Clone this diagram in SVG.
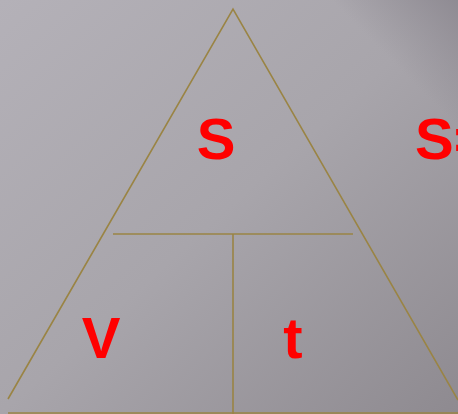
<svg xmlns="http://www.w3.org/2000/svg" width="458" height="414" viewBox="0 0 458 414">
<defs>
<linearGradient id="bg" x1="0" y1="0" x2="1" y2="1">
<stop offset="0" stop-color="#b4b1b8"/>
<stop offset="0.5" stop-color="#a8a5ab"/>
<stop offset="1" stop-color="#8e8a90"/>
</linearGradient>
<linearGradient id="tr" x1="1" y1="0" x2="0.6" y2="0.4">
<stop offset="0" stop-color="#8c8890" stop-opacity="0.9"/>
<stop offset="1" stop-color="#8c8890" stop-opacity="0"/>
</linearGradient>
<style>
.ln{stroke:#9a8444;stroke-width:1.6;fill:none}
.lb{font-family:"Liberation Sans",Arial,sans-serif;font-weight:bold;font-size:58px;fill:#ff0000}
</style>
</defs>
<rect width="458" height="414" fill="url(#bg)"/>
<rect x="300" y="0" width="158" height="160" fill="url(#tr)"/>
<g id="connectors">
<path class="ln" d="M8,399 L233,9 L458,400"/>
<line class="ln" x1="113" y1="234" x2="353" y2="234"/>
<line class="ln" x1="233" y1="234" x2="233" y2="414"/>
<line class="ln" x1="8" y1="413" x2="458" y2="413"/>
</g>
<g id="node-s"><text class="lb" x="216" y="159" text-anchor="middle">S</text></g>
<g id="node-formula"><text class="lb" x="415" y="159">S=</text></g>
<g id="node-v"><text class="lb" x="101" y="358" text-anchor="middle">V</text></g>
<g id="node-t"><text class="lb" x="293" y="358" text-anchor="middle">t</text></g>
</svg>
